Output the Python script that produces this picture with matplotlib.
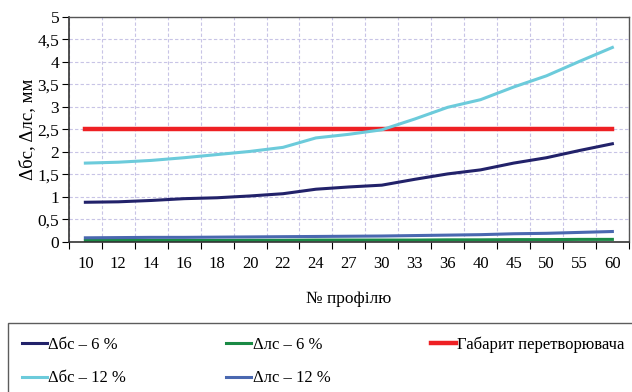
import numpy as np
import matplotlib.pyplot as plt
from matplotlib.ticker import FixedLocator, FuncFormatter

plt.rcParams['font.family'] = ['Liberation Serif', 'DejaVu Serif']

# Дані
profiles = ['10', '12', '14', '16', '18', '20', '22', '24', '27', '30',
            '33', '36', '40', '45', '50', '55', '60']
dbs_6 = [0.88, 0.89, 0.92, 0.96, 0.98, 1.02, 1.07, 1.17, 1.22, 1.26,
         1.39, 1.51, 1.60, 1.75, 1.87, 2.03, 2.18]
dls_6 = [0.03, 0.03, 0.03, 0.03, 0.03, 0.035, 0.035, 0.04, 0.04, 0.04,
         0.04, 0.045, 0.045, 0.05, 0.05, 0.055, 0.055]
gabaryt = [2.5] * len(profiles)
dbs_12 = [1.75, 1.77, 1.81, 1.87, 1.94, 2.01, 2.10, 2.31, 2.39, 2.49,
          2.73, 2.99, 3.16, 3.44, 3.69, 4.01, 4.32]
dls_12 = [0.09, 0.095, 0.10, 0.10, 0.105, 0.11, 0.115, 0.12, 0.125, 0.13,
          0.14, 0.15, 0.16, 0.18, 0.19, 0.21, 0.23]

x = np.arange(len(profiles))

fig = plt.figure(figsize=(6.32, 3.92), dpi=100)
ax = fig.add_axes([0.109, 0.383, 0.886, 0.574])

l1, = ax.plot(x, dbs_6, color='#22226a', lw=2.2, label='Δбс – 6 %')
l2, = ax.plot(x, dls_6, color='#1a8a45', lw=2.2, label='Δлс – 6 %')
l3, = ax.plot(x, gabaryt, color='#ee2024', lw=3.2, label='Габарит перетворювача')
l4, = ax.plot(x, dbs_12, color='#6ccbdb', lw=2.2, label='Δбс – 12 %')
l5, = ax.plot(x, dls_12, color='#4a68b0', lw=2.2, label='Δлс – 12 %')

ax.set_xlim(-0.5, len(profiles) - 0.5)
ax.set_ylim(0, 5)

# мітки між категоріями, підписи по центру
ax.xaxis.set_major_locator(FixedLocator(np.arange(-0.5, len(profiles), 1)))
ax.xaxis.set_major_formatter(FuncFormatter(lambda v, p: ''))
ax.xaxis.set_minor_locator(FixedLocator(x))
ax.set_xticklabels(profiles, minor=True)
ax.tick_params(axis='x', which='minor', length=0, pad=10, labelsize=12)
ax.tick_params(axis='x', which='major', length=5, direction='out')

yt = np.arange(0, 5.01, 0.5)
ax.set_yticks(yt)
ax.set_yticklabels([('%g' % v).replace('.', ',') for v in yt])
ax.tick_params(axis='y', length=5, direction='out', labelsize=12.5, pad=2)

ax.grid(True, which='major', color='#c8c4e6', linestyle=(0, (3, 2)), lw=0.8)
ax.set_axisbelow(True)

for s in ['left', 'bottom']:
    ax.spines[s].set_color('#333333')
    ax.spines[s].set_linewidth(1.2)
for s in ['top', 'right']:
    ax.spines[s].set_color('#555555')
    ax.spines[s].set_linewidth(1.0)

ax.set_xlabel('№ профілю', fontsize=12.5, labelpad=14)
ax.set_ylabel('Δбс, Δлс, мм', fontsize=13.5, labelpad=1)

leg = fig.legend([l1, l4, l2, l5, l3],
                 [l1.get_label(), l4.get_label(), l2.get_label(), l5.get_label(), l3.get_label()],
                 ncol=3, loc='upper left', bbox_to_anchor=(0.013, 0.176),
                 fontsize=12, frameon=True, fancybox=False,
                 handlelength=1.5, handletextpad=0.1, borderaxespad=0,
                 labelspacing=1.05, borderpad=0.8, columnspacing=6.0)
leg.get_frame().set_edgecolor('#333333')
leg.get_frame().set_linewidth(1.0)

fig.savefig('out.png', dpi=100)
